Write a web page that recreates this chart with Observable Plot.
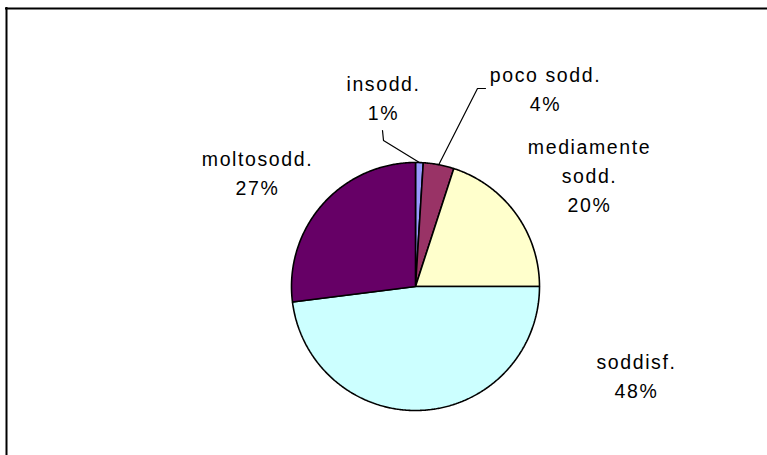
<!DOCTYPE html>
<html>
<head>
<meta charset="utf-8">
<script src="https://cdn.jsdelivr.net/npm/d3@7"></script>
<script src="https://cdn.jsdelivr.net/npm/@observablehq/plot@0.6"></script>
<style>
  html, body { margin: 0; padding: 0; background: #fff; overflow: hidden; }
  #chart svg text { letter-spacing: 1.6px; }
</style>
</head>
<body>
<div id="chart"></div>
<script>
// ---- data ----
const categories = ["insodd.", "poco sodd.", "mediamente sodd.", "soddisf.", "moltosodd."];
const values = [1, 4, 20, 48, 27];
const labelLines = [["insodd."], ["poco sodd."], ["mediamente", "sodd."], ["soddisf."], ["moltosodd."]];
const colors = ["#9999FF", "#993366", "#FFFFCC", "#CCFFFF", "#660066"];

// ---- layout (pixels) ----
const W = 767, H = 455;
const CX = 415, CY = 286, R = 124;
const labelX = [383, 545, 589, 636, 257];
const labelBaseline = [90, 81, 153, 368, 165];
const lineStep = 29;
const fontSize = 19.5;
const frameLeft = 6, frameTop = 8;
// leader lines: [start, elbow] in pixels, end on the slice edge (from data)
const leaders = [
  {slice: 0, pts: [[382, 130], [383, 140]]},
  {slice: 1, pts: [[485, 88], [477, 88]]}
];

const toX = px => (px - CX) / R;
const toY = py => (CY - py) / R;

// pie geometry from data
const pie = d3.pie().sort(null).value(d => d)(values);
const slices = [];
pie.forEach((p, i) => {
  const n = Math.max(4, Math.ceil((p.endAngle - p.startAngle) / (Math.PI / 360)));
  slices.push({i, x: 0, y: 0});
  for (let k = 0; k <= n; k++) {
    const a = p.startAngle + (p.endAngle - p.startAngle) * k / n;
    slices.push({i, x: Math.sin(a), y: Math.cos(a)});
  }
  slices.push({i, x: 0, y: 0});
});

const textRows = [];
labelLines.forEach((lines, i) => {
  const all = [...lines, values[i] + "%"];
  all.forEach((t, j) => {
    const base = labelBaseline[i] + j * lineStep;
    textRows.push({t, x: toX(labelX[i]), y: toY(base - 0.32 * fontSize)});
  });
});

const leaderRows = [];
leaders.forEach((l, k) => {
  const p = pie[l.slice];
  const mid = (p.startAngle + p.endAngle) / 2;
  l.pts.forEach(([px, py]) => leaderRows.push({k, x: toX(px), y: toY(py)}));
  leaderRows.push({k, x: Math.sin(mid), y: Math.cos(mid)});
});

const chart = Plot.plot({
  width: W,
  height: H,
  margin: 0,
  x: {domain: [toX(0), toX(W)], range: [0, W], axis: null},
  y: {domain: [toY(H), toY(0)], range: [H, 0], axis: null},
  style: {fontFamily: "Arial, 'Liberation Sans', sans-serif", background: "#fff"},
  marks: [
    Plot.line(slices, {
      x: "x", y: "y", z: "i",
      fill: d => colors[d.i],
      stroke: "#000", strokeWidth: 1.6, strokeLinejoin: "miter",
      curve: "linear"
    }),
    Plot.line(leaderRows, {x: "x", y: "y", z: "k", stroke: "#000", strokeWidth: 1.2}),
    Plot.text(textRows, {
      x: "x", y: "y", text: "t",
      fontSize: fontSize, fill: "#000", textAnchor: "middle", lineAnchor: "middle"
    }),
    Plot.ruleX([toX(frameLeft)], {stroke: "#000", strokeWidth: 2, y1: toY(frameTop - 1), y2: toY(H)}),
    Plot.ruleY([toY(frameTop)], {stroke: "#000", strokeWidth: 2, x1: toX(frameLeft - 1), x2: toX(W)})
  ]
});
document.getElementById("chart").appendChild(chart);
</script>
</body>
</html>
